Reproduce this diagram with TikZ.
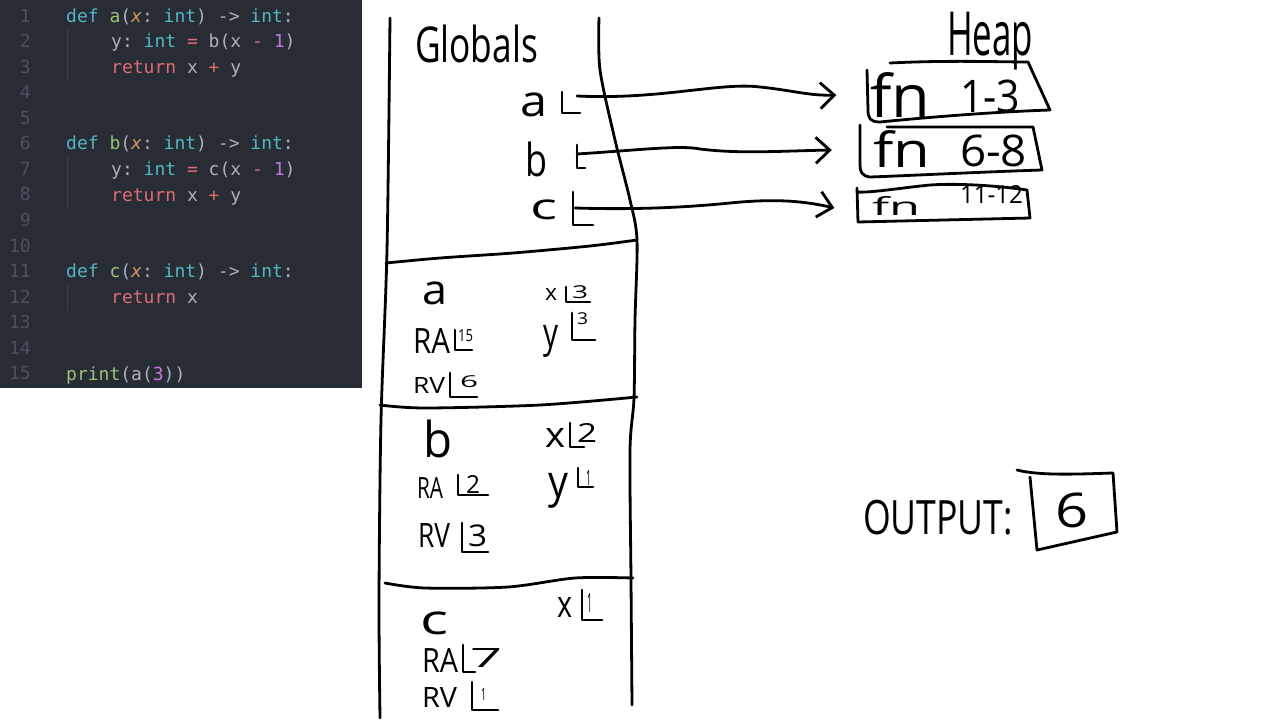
\documentclass[tikz,border=0pt]{standalone}
\usepackage{fontspec}
\setmonofont{DejaVu Sans Mono}
\newfontfamily\handf{Open Sans}
\usetikzlibrary{arrows.meta}
\definecolor{codebg}{HTML}{282C34}
\definecolor{lnumc}{HTML}{495162}
\definecolor{guidec}{HTML}{3B4048}
\definecolor{kwcol}{HTML}{56B6C2}
\definecolor{fncol}{HTML}{98C379}
\definecolor{parcol}{HTML}{D19A66}
\definecolor{txcol}{HTML}{ABB2BF}
\definecolor{redcol}{HTML}{E06C75}
\definecolor{purcol}{HTML}{C678DD}
\newcommand\cckw[1]{\textcolor{kwcol}{#1}}
\newcommand\ccfn[1]{\textcolor{fncol}{#1}}
\newcommand\ccpar[1]{\textcolor{parcol}{\itshape #1}}
\newcommand\ccred[1]{\textcolor{redcol}{#1}}
\newcommand\ccpur[1]{\textcolor{purcol}{#1}}
\newcommand\hwbox[3]{\resizebox*{#1pt}{#2pt}{\handf #3}}
\begin{document}
\begin{tikzpicture}[x=1pt,y=-1pt,
  code/.style={anchor=base west, inner sep=0pt, font=\ttfamily\fontsize{18}{18}\selectfont, text=txcol},
  lnum/.style={anchor=base east, inner sep=0pt, font=\ttfamily\fontsize{18}{18}\selectfont, text=lnumc},
  guide/.style={draw=guidec, line width=1pt},
  pen/.style={draw=black, line width=2.8pt, line cap=round, line join=round},
  arr/.style={pen, -{Straight Barb[length=14pt,width=26pt]}},
  hw/.style={inner sep=0pt, outer sep=0pt, anchor=north west},
  spot/.style={inner sep=0pt, draw=none}]
\useasboundingbox (0,0) rectangle (1280,720);
\fill[white] (0,0) rectangle (1280,720);
% ---------- code panel ----------
\fill[codebg] (0,0) rectangle (362,388);
\foreach \n in {1,...,15} \node[lnum] (ln\n) at (31,{22+(\n-1)*25.57}) {\n};
\draw[guide] (67,28) -- (67,80);
\draw[guide] (67,157) -- (67,208);
\draw[guide] (67,285) -- (67,311);
\node[code] (c1) at (66,22) {\cckw{def} \ccfn{a}(\ccpar{x}: \cckw{int}) -> \cckw{int}:};
\node[code] (c2) at (111,47.57) {y: \cckw{int} \ccred{=} b(x \ccred{-} \ccpur{1})};
\node[code] (c3) at (111,73.14) {\ccred{return} x \ccred{+} y};
\node[code] (c6) at (66,149.85) {\cckw{def} \ccfn{b}(\ccpar{x}: \cckw{int}) -> \cckw{int}:};
\node[code] (c7) at (111,175.42) {y: \cckw{int} \ccred{=} c(x \ccred{-} \ccpur{1})};
\node[code] (c8) at (111,201) {\ccred{return} x \ccred{+} y};
\node[code] (c11) at (66,277.7) {\cckw{def} \ccfn{c}(\ccpar{x}: \cckw{int}) -> \cckw{int}:};
\node[code] (c12) at (111,303.27) {\ccred{return} x};
\node[code] (c15) at (66,380) {\ccfn{print}(a(\ccpur{3}))};
% ---------- stack outline ----------
\draw[pen] plot[smooth] coordinates {(390,18) (387,250) (381,420) (379,600) (380,718)};
\draw[pen] plot[smooth] coordinates {(599,18) (600,70) (615,140) (630,200) (637,240) (635,320) (634,398) (630,450) (631,580) (632,705)};
\draw[pen] plot[smooth] coordinates {(386,263) (440,258) (513,253) (590,246) (637,240)};
\draw[pen] plot[smooth] coordinates {(380,405) (425,408) (540,405) (637,397)};
\draw[pen] plot[smooth] coordinates {(385,583) (425,588) (508,587) (575,578) (633,578)};
% ---------- titles ----------
\node[hw] (glob) at (415,25) {\hwbox{123}{38}{Globals}};
\node[hw] (heap) at (947,12) {\hwbox{86}{58}{Heap}};
% ---------- globals ----------
\node[hw] (ga) at (520,93) {\hwbox{27}{24}{a}};
\node[hw] (gb) at (525,142) {\hwbox{22}{35}{b}};
\node[hw] (gc) at (530,200) {\hwbox{27}{20}{c}};
\draw[pen] (562,92) |- (580,113);
\draw[pen] (577,145) |- (585,168);
\draw[pen] (573,192) |- (593,225);
% ---------- heap ----------
\node[spot, minimum width=183pt, minimum height=60pt] (h1) at (958,92) {};
\node[spot, minimum width=182pt, minimum height=52pt] (h2) at (951,151) {};
\node[spot, minimum width=173pt, minimum height=35pt] (h3) at (943,204) {};
\draw[pen] (890,63) .. controls (950,60) and (1000,62) .. (1028,62) -- (1050,110) .. controls (990,112) and (920,118) .. (880,122) .. controls (870,122) and (868,118) .. (868,110) -- (867,70);
\draw[pen] (887,127) -- (1033,127) -- (1042,170) .. controls (980,172) and (900,176) .. (870,177) .. controls (862,176) and (860,172) .. (860,165) -- (860,125);
\draw[pen] (857,188) -- (858,222) -- (1030,218) -- (1027,190) .. controls (1000,186) and (960,183) .. (930,185) .. controls (900,188) and (870,193) .. (857,192);
\node[hw] (h1a) at (870,72) {\hwbox{60}{45}{fn}};
\node[hw] (h1b) at (960,80) {\hwbox{60}{33}{1-3}};
\node[hw] (h2a) at (873,130) {\hwbox{57}{37}{fn}};
\node[hw] (h2b) at (960,135) {\hwbox{67}{32}{6-8}};
\node[hw] (h3a) at (872,196) {\hwbox{48}{19}{fn}};
\node[hw] (h3b) at (960,185) {\hwbox{63}{18}{11-12}};
% ---------- arrows ----------
\coordinate (as) at (577,96);
\coordinate (bs) at (577,154);
\coordinate (cs) at (575,208);
\coordinate (ae) at ([xshift=-30pt,yshift=-3pt]h1.west);
\coordinate (be) at ([xshift=-28pt,yshift=1pt]h2.west);
\coordinate (ce) at ([xshift=-22pt,yshift=-4pt]h3.west);
\draw[arr] (as) .. controls (660,100) and (720,82) .. (760,87) .. controls (790,90) and (810,96) .. (ae);
\draw[arr] (bs) .. controls (640,150) and (680,145) .. (700,149) .. controls (740,154) and (780,151) .. (be);
\draw[arr] (cs) .. controls (640,210) and (690,207) .. (730,203) .. controls (770,199) and (800,200) .. (ce);
% ---------- frame a ----------
\node[hw] (fa) at (422,282) {\hwbox{25}{23}{a}};
\node[hw] (fax) at (545,288) {\hwbox{12}{12}{x}};
\node[hw] (faxv) at (572,286) {\hwbox{16}{13}{3}};
\draw[pen] (566,287) |- (590,302);
\node[hw] (fay) at (543,325) {\hwbox{15}{32}{y}};
\node[hw] (fayv) at (577,313) {\hwbox{11}{12}{3}};
\draw[pen] (572,313) |- (595,340);
\node[hw] (fara) at (413,328) {\hwbox{37}{25}{RA}};
\node[hw] (farav) at (458,330) {\hwbox{15}{12}{15}};
\draw[pen] (455,330) |- (472,350);
\node[hw] (farv) at (413,377) {\hwbox{32}{16}{RV}};
\node[hw] (farvv) at (460,376) {\hwbox{18}{12}{6}};
\draw[pen] (450,373) |- (477,397);
% ---------- frame b ----------
\node[hw] (fb) at (423,420) {\hwbox{29}{38}{b}};
\node[hw] (fbx) at (545,428) {\hwbox{20}{19}{x}};
\node[hw] (fbxv) at (577,423) {\hwbox{20}{19}{2}};
\draw[pen] (570,423) |- (584,447);
\node[hw] (fbra) at (417,477) {\hwbox{26}{21}{RA}};
\node[hw] (fbrav) at (466,475) {\hwbox{14}{18}{2}};
\draw[pen] (458,475) |- (488,495);
\node[hw] (fby) at (548,473) {\hwbox{20}{35}{y}};
\node[hw] (fbyv) at (586,470) {\hwbox{5}{15}{1}};
\draw[pen] (578,468) |- (593,487);
\node[hw] (fbrv) at (418,523) {\hwbox{32}{24}{RV}};
\node[hw] (fbrvv) at (468,525) {\hwbox{19}{22}{3}};
\draw[pen] (462,523) |- (488,552);
% ---------- frame c ----------
\node[hw] (fc) at (420,612) {\hwbox{28}{23}{c}};
\node[hw] (fcx) at (557,597) {\hwbox{15}{20}{x}};
\node[hw] (fcxv) at (587,593) {\hwbox{5}{19}{1}};
\draw[pen] (582,590) |- (602,620);
\node[hw] (fcra) at (422,648) {\hwbox{36}{24}{RA}};
\node[hw] (fcrav) at (470,648) {\hwbox{32}{19}{7}};
\draw[pen] (463,645) |- (475,672);
\node[hw] (fcrv) at (422,687) {\hwbox{35}{20}{RV}};
\node[hw] (fcrvv) at (481,688) {\hwbox{5}{12}{1}};
\draw[pen] (472,682) |- (498,710);
% ---------- output ----------
\node[hw] (outl) at (863,500) {\hwbox{150}{35}{OUTPUT:}};
\node[hw] (outv) at (1055,493) {\hwbox{33}{35}{6}};
\draw[pen] (1017,470) .. controls (1040,476) and (1080,474) .. (1113,473) -- (1117,532) -- (1037,550) -- (1030,477);
\end{tikzpicture}
\end{document}
